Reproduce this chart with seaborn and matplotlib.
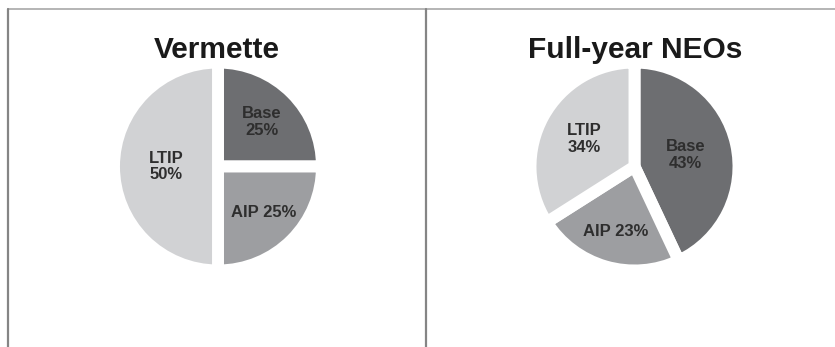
import numpy as np
import matplotlib
matplotlib.use("Agg")
import matplotlib.pyplot as plt
from matplotlib.lines import Line2D
import seaborn as sns

# ---- data ----
titles = ["Vermette", "Full-year NEOs"]
categories = ["Base", "AIP", "LTIP"]
vermette_values = [25, 25, 50]
neo_values = [43, 23, 34]
vermette_labels = ["Base\n25%", "AIP 25%", "LTIP\n50%"]
neo_labels = ["Base\n43%", "AIP 23%", "LTIP\n34%"]

# ---- style ----
sns.set_theme(style="white")
plt.rcParams['font.family'] = ['Liberation Sans', 'DejaVu Sans']
colors = ["#6d6e71", "#9d9ea1", "#d1d2d4"]
text_color = "#2e2e2e"

W, H = 835, 347
fig = plt.figure(figsize=(W / 100, H / 100), dpi=100)
fig.patch.set_facecolor("white")

# panel borders
fig.add_artist(Line2D([8 / W, 1.0], [1 - 9 / H, 1 - 9 / H], transform=fig.transFigure,
                      color="#a8a8a8", lw=1.2))
for xp in (8, 426):
    fig.add_artist(Line2D([xp / W, xp / W], [0, 1 - 9 / H], transform=fig.transFigure,
                          color="#858585", lw=1.6))

r_px = 104
pad = 1.1
centers = [(218, 166.5), (634.5, 166.5)]
label_dists = [[0.60, 0.62, 0.50], [0.50, 0.65, 0.55]]
title_x = [217, 635]

for i, (vals, labs) in enumerate([(vermette_values, vermette_labels), (neo_values, neo_labels)]):
    cx, cy = centers[i]
    half = r_px * pad
    ax = fig.add_axes([(cx - half) / W, (H - cy - half) / H, 2 * half / W, 2 * half / H])
    wedges, _ = ax.pie(vals, colors=colors, startangle=90, counterclock=False, radius=1,
                       wedgeprops=dict(edgecolor="white", linewidth=8.6, joinstyle="miter"))
    for w, lab, d in zip(wedges, labs, label_dists[i]):
        w.set_clip_on(False)
        ang = np.deg2rad((w.theta1 + w.theta2) / 2)
        ax.text(d * np.cos(ang), d * np.sin(ang), lab, ha="center", va="center",
                fontsize=12, fontweight="bold", color=text_color, linespacing=1.15)
    ax.set_xlim(-pad, pad)
    ax.set_ylim(-pad, pad)
    ax.set_aspect("equal")
    ax.axis("off")
    fig.text(title_x[i] / W, 1 - 58 / H, titles[i], ha="center", va="baseline",
             fontsize=21.5, fontweight="bold", color="#1a1a1a")

fig.savefig("out.png", dpi=100, facecolor="white")
